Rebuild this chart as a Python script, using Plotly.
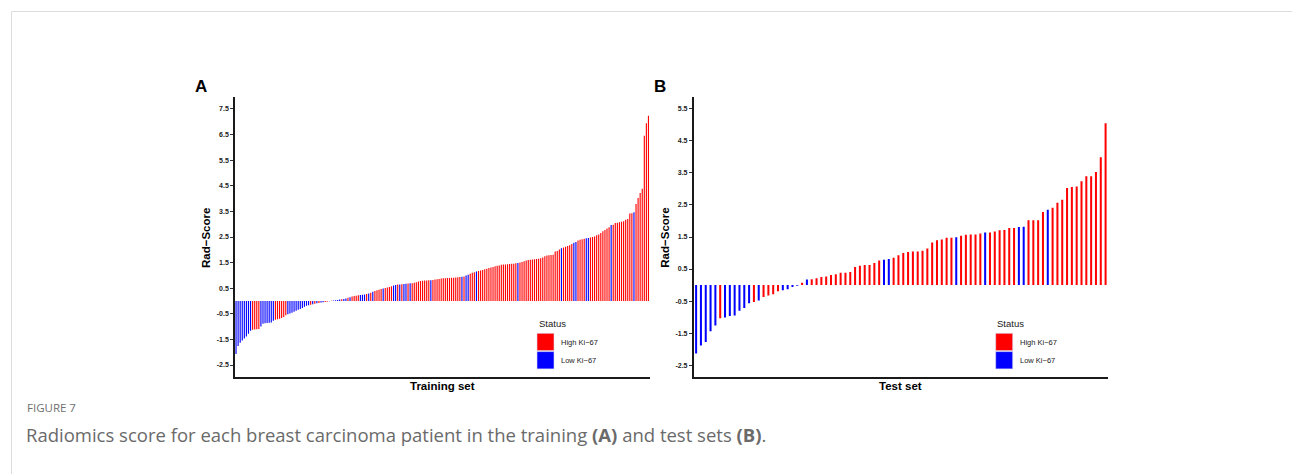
import plotly.graph_objects as go

W, H = 1292, 474

# Rad-Score per patient, sorted ascending (training cohort)
train_scores = [
    -2.07, -1.76, -1.63, -1.54, -1.46, -1.39, -1.28, -1.16, -1.12, -1.11,
    -1.10, -1.09, -1.00, -0.89, -0.87, -0.86, -0.85, -0.84, -0.77, -0.73,
    -0.71, -0.69, -0.66, -0.62, -0.56, -0.52, -0.49, -0.46, -0.42, -0.38,
    -0.34, -0.31, -0.27, -0.22, -0.19, -0.17, -0.15, -0.13, -0.11, -0.09,
    -0.08, -0.06, -0.05, -0.04, -0.03, -0.01, 0.01, 0.02, 0.03, 0.04,
    0.06, 0.07, 0.08, 0.10, 0.13, 0.15, 0.18, 0.20, 0.21, 0.22,
    0.23, 0.24, 0.25, 0.27, 0.29, 0.32, 0.36, 0.39, 0.42, 0.44,
    0.47, 0.49, 0.51, 0.53, 0.55, 0.58, 0.61, 0.63, 0.64, 0.64,
    0.65, 0.66, 0.67, 0.68, 0.69, 0.69, 0.71, 0.73, 0.76, 0.78,
    0.79, 0.80, 0.80, 0.81, 0.81, 0.82, 0.84, 0.85, 0.86, 0.88,
    0.89, 0.89, 0.90, 0.90, 0.91, 0.91, 0.92, 0.93, 0.94, 0.95,
    0.96, 1.00, 1.03, 1.06, 1.10, 1.12, 1.15, 1.17, 1.19, 1.21,
    1.24, 1.26, 1.29, 1.31, 1.33, 1.36, 1.38, 1.39, 1.42, 1.43,
    1.43, 1.44, 1.45, 1.46, 1.46, 1.47, 1.48, 1.50, 1.52, 1.55,
    1.58, 1.60, 1.61, 1.62, 1.63, 1.64, 1.65, 1.67, 1.70, 1.75,
    1.78, 1.79, 1.80, 1.81, 1.93, 1.95, 2.01, 2.06, 2.09, 2.12,
    2.15, 2.18, 2.23, 2.28, 2.30, 2.36, 2.39, 2.41, 2.43, 2.45,
    2.46, 2.48, 2.50, 2.52, 2.57, 2.60, 2.66, 2.72, 2.77, 2.83,
    2.88, 2.97, 2.98, 3.05, 3.06, 3.08, 3.10, 3.12, 3.17, 3.20,
    3.42, 3.43, 3.47, 3.79, 4.02, 4.22, 4.38, 6.45, 6.94, 7.24,
]

# Ki-67 status per training patient: H = high, L = low
train_status = list(
    "LLLLLLLL" "HHHH" "LLLLLLL" "HHHHHH" "LLLLLLLLLLL"
    "HLHLHLLHHLH" "LLLL" "HLLHL" "HHHH" "LLL" "HLHL" "HHHH" "L" "HHHH"
    "LLHLHLLHL" "HHHHHHHHH" "L" "HHHHHHHHHHHHHH" "LHLL" "HHH" "L"
    "HHHHHHHHHHHHHHHHHHH" "L" "HHHHHHHHHHHHHHHHHHHH" "L" "HHHHH" "LL"
    "HHHH" "LL" "HHHHHHHHHH" "L" "HHHHHHHHHH" "L" "HHHHHHH"
)

# Rad-Score per patient, sorted ascending (test cohort)
test_scores = [
    -2.14, -1.89, -1.78, -1.44, -1.26, -1.04, -1.01, -0.97, -0.95, -0.80,
    -0.72, -0.57, -0.53, -0.48, -0.375, -0.33, -0.29, -0.19, -0.16, -0.135,
    -0.06, -0.02, 0.07, 0.17, 0.18, 0.21, 0.25, 0.27, 0.31, 0.34,
    0.385, 0.385, 0.41, 0.56, 0.60, 0.625, 0.625, 0.69, 0.77, 0.79,
    0.81, 0.85, 0.93, 1.00, 1.03, 1.05, 1.05, 1.07, 1.14, 1.33,
    1.40, 1.42, 1.48, 1.48, 1.49, 1.54, 1.57, 1.58, 1.58, 1.61,
    1.64, 1.64, 1.67, 1.71, 1.72, 1.78, 1.78, 1.81, 1.82, 2.02,
    2.02, 2.02, 2.28, 2.35, 2.41, 2.57, 2.66, 3.03, 3.06, 3.08,
    3.24, 3.40, 3.40, 3.53, 3.99, 5.05,
]

test_status = list(
    "LLLLL" "H" "LLLLLL" "H" "L" "HHHH" "LLLL" "H" "L"
    "HHHHHHHHHHHHHHH" "LL" "HHHHHHHHHHHHH" "L" "HHHHH" "L" "HHHHHH"
    "LL" "HHHH" "L" "HHHHHHHHHHHH"
)

assert len(train_status) == len(train_scores)
assert len(test_status) == len(test_scores)

train_ticks = [-2.5, -1.5, -0.5, 0.5, 1.5, 2.5, 3.5, 4.5, 5.5, 6.5, 7.5]
test_ticks = [-2.5, -1.5, -0.5, 0.5, 1.5, 2.5, 3.5, 4.5, 5.5]

status_names = {"H": "High Ki\u221267", "L": "Low Ki\u221267"}
status_colors = {"H": "#FF0000", "L": "#0000FF"}
# bar fills carry a hair of transparency so plotly snaps thin bars to whole
# pixels instead of widening them (keeps the gaps between narrow bars)
bar_colors = {"H": "rgba(255,0,0,0.995)", "L": "rgba(0,0,255,0.995)"}

panel_letters = ["A", "B"]
x_titles = ["Training set", "Test set"]
y_title = "Rad\u2212Score"
legend_title = "Status"

fig_title = "FIGURE 7"
caption = ("Radiomics score for each breast carcinoma patient in the training "
           "<b>(A)</b> and test sets <b>(B)</b>.")

CHART_FONT = "Liberation Sans, Arial, sans-serif"
CAPTION_FONT = "Open Sans, Noto Sans, sans-serif"


def fx(px):
    return px / W


def fy(py):
    return 1 - py / H


def tick_text(v):
    return f"{v:.1f}"


# pixel layout of the two panels; "width" is the bar width in category units
panels = [
    dict(x0=235, x1=649.5, ymin=-2.98, ymax=7.98, ticks=train_ticks,
         scores=train_scores, status=train_status, width=0.55),
    dict(x0=693.7, x1=1108, ymin=-2.88, ymax=5.88, ticks=test_ticks,
         scores=test_scores, status=test_status, width=0.42),
]
PLOT_TOP, PLOT_BOTTOM = 96.7, 377.3

fig = go.Figure()
layout = dict(
    width=W, height=H,
    margin=dict(l=0, r=0, t=0, b=0),
    paper_bgcolor="white", plot_bgcolor="white",
    showlegend=False,
    annotations=[], shapes=[],
)

for k, p in enumerate(panels):
    suffix = "" if k == 0 else str(k + 1)
    n = len(p["scores"])
    xs = list(range(1, n + 1))
    fig.add_trace(go.Bar(
        x=xs, y=p["scores"], width=p["width"],
        marker=dict(color=[bar_colors[s] for s in p["status"]], line=dict(width=0)),
        xaxis="x" + suffix, yaxis="y" + suffix,
        hovertext=[status_names[s] for s in p["status"]],
    ))
    layout["xaxis" + suffix] = dict(
        domain=[fx(p["x0"]), fx(p["x1"])],
        anchor="y" + suffix,
        range=[0.5, n + 0.5],
        showticklabels=False, ticks="", showgrid=False, zeroline=False,
        showline=True, linecolor="#1a1a1a", linewidth=1.6,
    )
    layout["yaxis" + suffix] = dict(
        domain=[fy(PLOT_BOTTOM), fy(PLOT_TOP)],
        anchor="x" + suffix,
        range=[p["ymin"], p["ymax"]],
        tickvals=p["ticks"], ticktext=[tick_text(v) for v in p["ticks"]],
        ticks="outside", ticklen=3, tickwidth=1, tickcolor="#333333",
        tickfont=dict(family=CHART_FONT, size=7, color="#222222", weight="bold"),
        showgrid=False, zeroline=False,
        showline=True, linecolor="#1a1a1a", linewidth=1.6,
    )

    # panel letter
    layout["annotations"].append(dict(
        x=fx(p["x0"] - 34), y=fy(87), xref="paper", yref="paper",
        text=f"<b>{panel_letters[k]}</b>", showarrow=False,
        font=dict(family=CHART_FONT, size=17, color="black"),
        xanchor="center", yanchor="middle",
    ))
    # axis titles
    layout["annotations"].append(dict(
        x=fx(p["x0"] - 29), y=fy((PLOT_TOP + PLOT_BOTTOM) / 2 + 1),
        xref="paper", yref="paper", text=f"<b>{y_title}</b>", textangle=-90,
        showarrow=False, font=dict(family=CHART_FONT, size=11.5, color="black"),
        xanchor="center", yanchor="middle",
    ))
    layout["annotations"].append(dict(
        x=fx((p["x0"] + p["x1"]) / 2), y=fy(385.5), xref="paper", yref="paper",
        text=f"<b>{x_titles[k]}</b>", showarrow=False,
        font=dict(family=CHART_FONT, size=11.5, color="black"),
        xanchor="center", yanchor="middle",
    ))

    # legend block inside the panel
    lx = p["x0"] + 301.5
    layout["annotations"].append(dict(
        x=fx(lx), y=fy(323.5), xref="paper", yref="paper", text=legend_title,
        showarrow=False, font=dict(family=CHART_FONT, size=9.5, color="#1a1a1a"),
        xanchor="left", yanchor="middle",
    ))
    for j, key in enumerate(["H", "L"]):
        top = 333.3 + j * 18.3
        layout["shapes"].append(dict(
            type="rect", xref="paper", yref="paper",
            x0=fx(lx + 0.5), x1=fx(lx + 17.5), y0=fy(top + 17.3), y1=fy(top),
            fillcolor=status_colors[key], line=dict(color="#d8d8f0", width=0.6),
        ))
        layout["annotations"].append(dict(
            x=fx(lx + 22.5), y=fy(top + 9), xref="paper", yref="paper",
            text=status_names[key], showarrow=False,
            font=dict(family=CHART_FONT, size=7.5, color="#1a1a1a"),
            xanchor="left", yanchor="middle",
        ))

# page frame
layout["shapes"].append(dict(type="line", xref="paper", yref="paper",
                             x0=fx(11.5), x1=1, y0=fy(11.5), y1=fy(11.5),
                             line=dict(color="#dcdcdc", width=1)))
layout["shapes"].append(dict(type="line", xref="paper", yref="paper",
                             x0=fx(11.5), x1=fx(11.5), y0=fy(11.5), y1=0,
                             line=dict(color="#dcdcdc", width=1)))

# figure caption
layout["annotations"].append(dict(
    x=fx(25), y=fy(407), xref="paper", yref="paper", text=fig_title,
    showarrow=False, font=dict(family=CAPTION_FONT, size=11.5, color="#707070"),
    xanchor="left", yanchor="middle",
))
layout["annotations"].append(dict(
    x=fx(24), y=fy(434), xref="paper", yref="paper", text=caption,
    showarrow=False, font=dict(family=CAPTION_FONT, size=18.5, color="#6a6a6a"),
    xanchor="left", yanchor="middle",
))

fig.update_layout(**layout)
fig.write_html("out.html")
